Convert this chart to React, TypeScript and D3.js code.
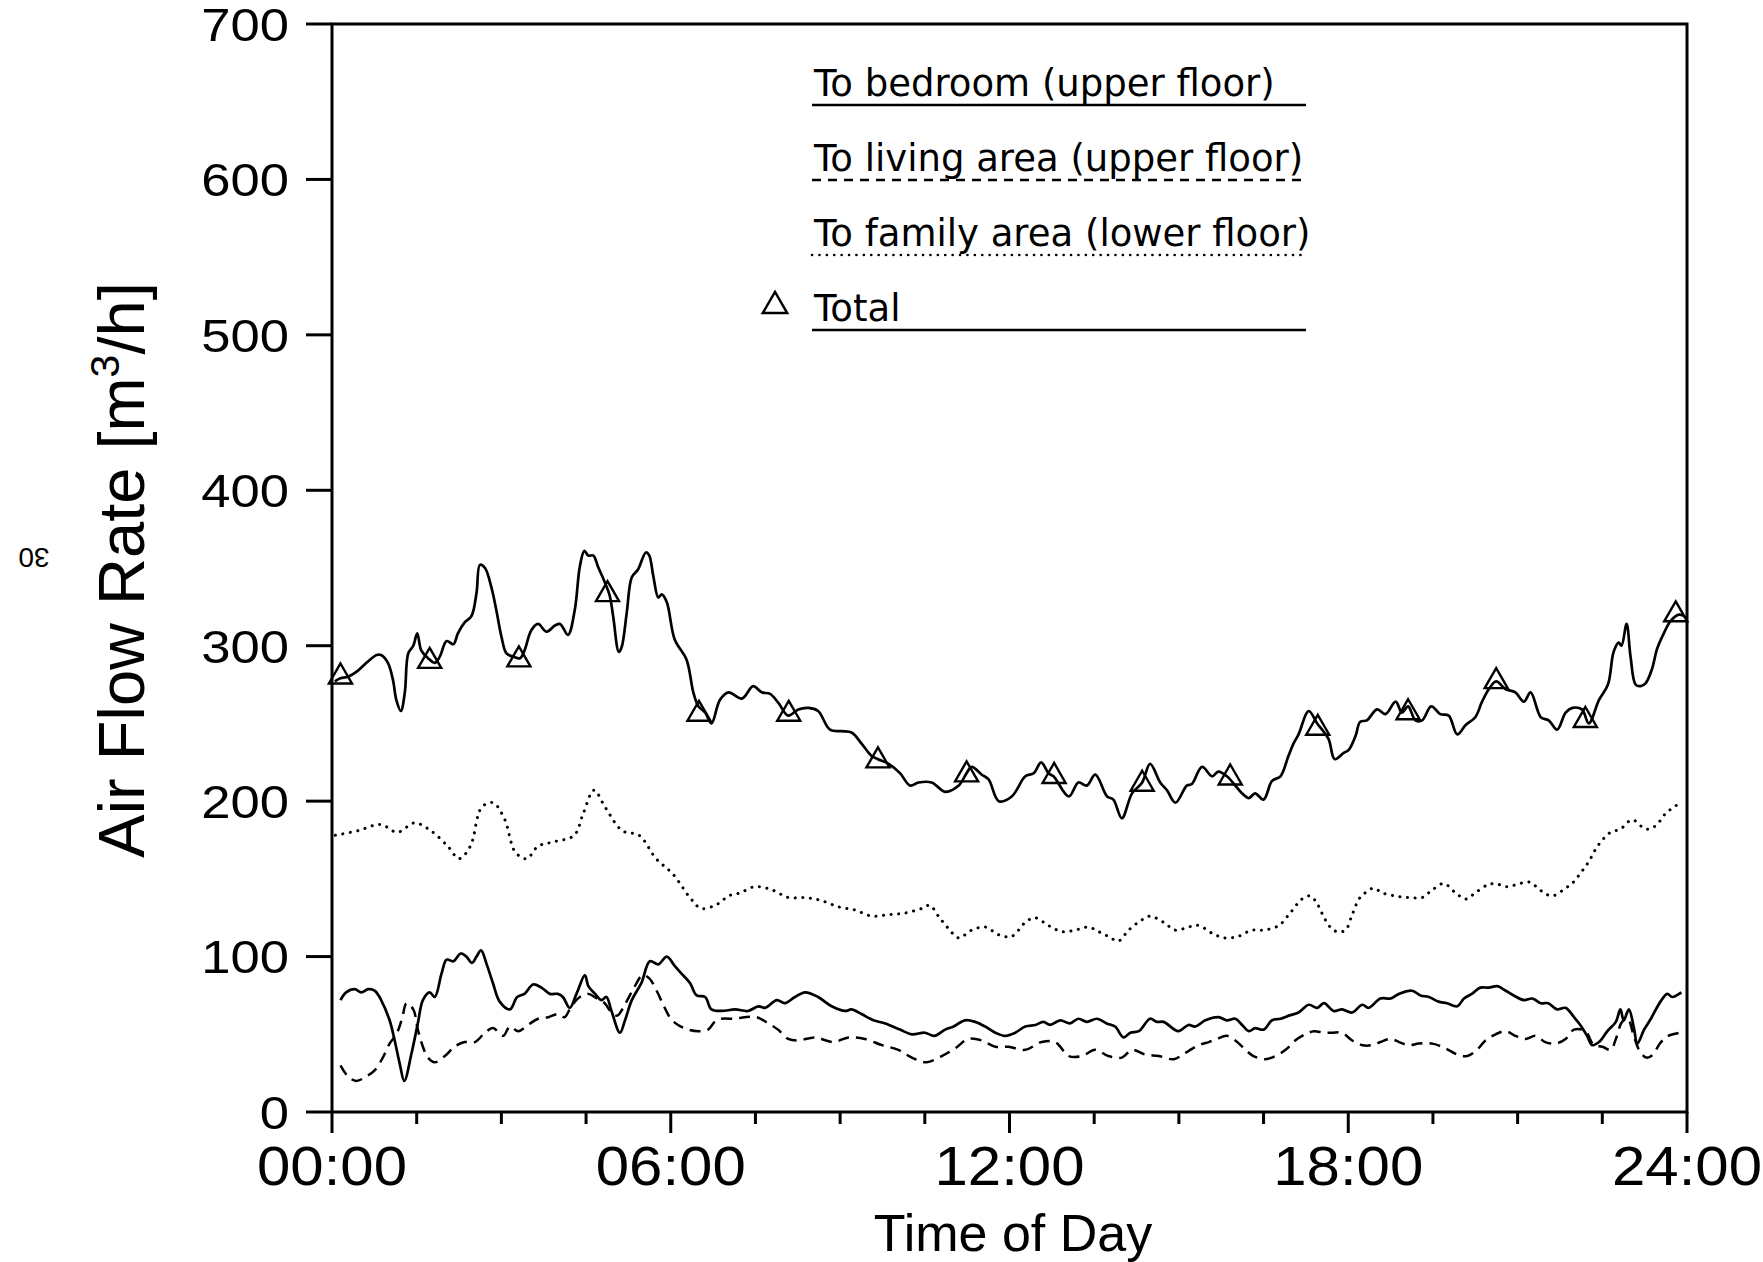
import React, { useEffect, useRef } from 'react';
import * as d3 from 'd3';

// values: [hour of day, air flow m3/h]
const totalFlow: [number, number][] = [
  [0.05, 277], [0.15, 279], [0.28, 280], [0.46, 284], [0.61, 289], [0.79, 294], [0.87, 294], [0.99, 289],
  [1.08, 278], [1.14, 265], [1.22, 258], [1.29, 270], [1.35, 295], [1.44, 300], [1.51, 308], [1.58, 297],
  [1.7, 292], [1.82, 289], [1.91, 293], [2.03, 303], [2.15, 301], [2.23, 308], [2.35, 315], [2.47, 319],
  [2.56, 334], [2.62, 352], [2.71, 350], [2.82, 338], [2.91, 323], [3.0, 306], [3.09, 295], [3.21, 293],
  [3.33, 292], [3.41, 297], [3.53, 310], [3.65, 314], [3.8, 309], [3.95, 313], [4.04, 314], [4.18, 307],
  [4.3, 323], [4.39, 351], [4.47, 361], [4.54, 358], [4.63, 358], [4.71, 351], [4.83, 341], [4.92, 332],
  [4.98, 319], [5.08, 296], [5.13, 299], [5.22, 321], [5.31, 344], [5.42, 349], [5.56, 360], [5.62, 358],
  [5.69, 345], [5.78, 331], [5.84, 333], [5.93, 328], [6.07, 304], [6.28, 291], [6.4, 270], [6.49, 261],
  [6.61, 257], [6.72, 250], [6.87, 265], [7.02, 270], [7.26, 266], [7.46, 274], [7.61, 270], [7.76, 269],
  [7.91, 263], [8.08, 255], [8.26, 259], [8.44, 260], [8.61, 258], [8.82, 246], [9.03, 245], [9.21, 244],
  [9.38, 237], [9.56, 229], [9.67, 227], [9.86, 224], [10.06, 218], [10.24, 210], [10.39, 212], [10.62, 212],
  [10.86, 206], [11.1, 210], [11.24, 218], [11.33, 222], [11.51, 217], [11.63, 214], [11.81, 200], [12.04, 203],
  [12.28, 216], [12.43, 218], [12.56, 225], [12.69, 218], [12.78, 216], [13.05, 203], [13.22, 212], [13.37, 210],
  [13.52, 217], [13.73, 203], [13.84, 201], [13.99, 189], [14.17, 205], [14.35, 212], [14.49, 224], [14.67, 212],
  [14.79, 207], [14.94, 199], [15.14, 210], [15.23, 211], [15.41, 222], [15.59, 216], [15.7, 219], [15.85, 216],
  [16.0, 210], [16.12, 205], [16.24, 202], [16.35, 205], [16.5, 201], [16.65, 213], [16.8, 216], [16.94, 229],
  [17.03, 237], [17.12, 243], [17.3, 258], [17.45, 250], [17.65, 240], [17.76, 227], [17.92, 231], [18.01, 233],
  [18.13, 242], [18.21, 251], [18.33, 252], [18.51, 259], [18.66, 256], [18.84, 264], [18.95, 257], [19.06, 261],
  [19.19, 252], [19.31, 252], [19.47, 261], [19.63, 256], [19.78, 255], [19.93, 243], [20.08, 249], [20.25, 254],
  [20.37, 264], [20.49, 272], [20.62, 277], [20.79, 272], [20.96, 270], [21.11, 264], [21.23, 270], [21.41, 254],
  [21.55, 252], [21.7, 246], [21.85, 257], [21.97, 260], [22.14, 259], [22.26, 250], [22.44, 265], [22.6, 275],
  [22.7, 296], [22.79, 302], [22.84, 300], [22.93, 314], [23.0, 293], [23.09, 275], [23.18, 274], [23.27, 276],
  [23.38, 285], [23.47, 298], [23.59, 308], [23.71, 316], [23.86, 320], [23.95, 319],
];

const bedroomFlow: [number, number][] = [
  [0.15, 72], [0.25, 77], [0.4, 79], [0.52, 77], [0.64, 79], [0.76, 78], [0.87, 72], [1.02, 59],
  [1.11, 46], [1.2, 31], [1.28, 20], [1.41, 38], [1.52, 57], [1.61, 72], [1.73, 77], [1.82, 74],
  [1.94, 89], [2.03, 98], [2.15, 97], [2.28, 102], [2.38, 100], [2.48, 96], [2.56, 100], [2.64, 104],
  [2.74, 95], [2.85, 83], [2.97, 71], [3.15, 66], [3.28, 74], [3.41, 76], [3.56, 82], [3.71, 80],
  [3.86, 76], [4.0, 76], [4.09, 74], [4.21, 67], [4.33, 76], [4.48, 88], [4.54, 81], [4.66, 76],
  [4.77, 72], [4.86, 74], [4.95, 65], [5.1, 51], [5.19, 59], [5.31, 72], [5.48, 83], [5.63, 97],
  [5.78, 95], [5.93, 100], [6.07, 94], [6.19, 89], [6.34, 83], [6.46, 75], [6.61, 74], [6.72, 66],
  [6.9, 65], [7.14, 66], [7.37, 65], [7.55, 68], [7.67, 67], [7.88, 72], [8.02, 70], [8.2, 74],
  [8.38, 77], [8.61, 74], [8.85, 68], [9.09, 65], [9.2, 66], [9.38, 63], [9.59, 59], [9.8, 57],
  [10.06, 53], [10.27, 50], [10.5, 51], [10.67, 49], [10.86, 53], [11.01, 55], [11.21, 59], [11.39, 58],
  [11.57, 55], [11.75, 51], [11.92, 49], [12.1, 51], [12.28, 55], [12.46, 56], [12.6, 58], [12.72, 56],
  [12.9, 59], [13.07, 57], [13.22, 60], [13.37, 58], [13.55, 60], [13.72, 57], [13.87, 55], [14.02, 48],
  [14.14, 51], [14.29, 52], [14.49, 60], [14.61, 58], [14.73, 58], [14.99, 52], [15.17, 56], [15.29, 55],
  [15.47, 59], [15.7, 61], [15.85, 59], [16.0, 60], [16.12, 56], [16.24, 52], [16.35, 54], [16.5, 53],
  [16.65, 59], [16.8, 60], [16.95, 62], [17.12, 64], [17.3, 69], [17.45, 67], [17.57, 70], [17.74, 65],
  [17.89, 66], [18.07, 64], [18.25, 69], [18.36, 67], [18.57, 73], [18.75, 73], [18.9, 76], [19.13, 78],
  [19.28, 75], [19.43, 74], [19.6, 71], [19.75, 70], [19.93, 68], [20.05, 73], [20.19, 76], [20.34, 80],
  [20.49, 80], [20.64, 81], [20.79, 78], [20.93, 75], [21.11, 72], [21.26, 73], [21.41, 70], [21.54, 70],
  [21.7, 66], [21.85, 67], [22.0, 61], [22.11, 56], [22.23, 49], [22.32, 43], [22.44, 45], [22.59, 52],
  [22.74, 58], [22.82, 66], [22.88, 59], [22.97, 66], [23.06, 54], [23.12, 44], [23.24, 53], [23.36, 60],
  [23.53, 71], [23.65, 76], [23.74, 74], [23.86, 76], [23.9, 77],
];

const livingFlow: [number, number][] = [
  [0.15, 30], [0.28, 23], [0.43, 20], [0.61, 23], [0.76, 27], [0.9, 35], [1.02, 44], [1.14, 50],
  [1.24, 60], [1.32, 70], [1.44, 66], [1.52, 53], [1.61, 42], [1.7, 35], [1.82, 32], [2.0, 36],
  [2.17, 42], [2.35, 45], [2.53, 45], [2.71, 51], [2.85, 54], [3.03, 49], [3.15, 55], [3.3, 52],
  [3.47, 56], [3.65, 60], [3.83, 61], [4.0, 63], [4.12, 61], [4.24, 68], [4.39, 74], [4.54, 76],
  [4.69, 73], [4.83, 70], [4.95, 64], [5.05, 62], [5.2, 70], [5.35, 80], [5.5, 88], [5.62, 86],
  [5.75, 78], [5.88, 68], [6.0, 60], [6.13, 56], [6.31, 53], [6.49, 52], [6.66, 53], [6.78, 58],
  [6.9, 60], [7.14, 60], [7.31, 61], [7.52, 61], [7.73, 57], [7.9, 53], [8.08, 47], [8.26, 46],
  [8.55, 48], [8.88, 45], [9.15, 48], [9.44, 47], [9.74, 43], [10.03, 40], [10.27, 35], [10.53, 32],
  [10.8, 36], [11.04, 41], [11.27, 47], [11.51, 46], [11.75, 42], [11.98, 42], [12.28, 40], [12.57, 45],
  [12.81, 45], [13.05, 36], [13.28, 36], [13.52, 40], [13.75, 36], [13.99, 35], [14.17, 40], [14.4, 37],
  [14.64, 36], [14.91, 34], [15.11, 38], [15.35, 43], [15.53, 45], [15.67, 47], [15.85, 49], [16.0, 46],
  [16.18, 40], [16.32, 36], [16.53, 34], [16.71, 36], [16.89, 40], [17.06, 46], [17.24, 50], [17.39, 52],
  [17.57, 51], [17.71, 51], [17.89, 51], [18.07, 46], [18.25, 43], [18.42, 43], [18.57, 45], [18.75, 47],
  [18.9, 45], [19.07, 43], [19.25, 44], [19.49, 44], [19.72, 41], [19.93, 37], [20.11, 36], [20.28, 40],
  [20.43, 46], [20.61, 50], [20.79, 52], [20.96, 49], [21.14, 47], [21.32, 49], [21.49, 45], [21.67, 44],
  [21.85, 47], [22.0, 53], [22.2, 52], [22.35, 43], [22.5, 42], [22.65, 40], [22.74, 47], [22.85, 58],
  [22.95, 60], [23.05, 50], [23.15, 40], [23.28, 35], [23.4, 37], [23.5, 43], [23.62, 48], [23.75, 50],
  [23.88, 51],
];

const familyFlow: [number, number][] = [
  [0.06, 178], [0.46, 181], [0.86, 185], [1.16, 180], [1.46, 186], [1.75, 181], [2.05, 171], [2.25, 163],
  [2.45, 171], [2.65, 196], [2.85, 199], [3.05, 189], [3.25, 167], [3.45, 163], [3.65, 171], [3.95, 174],
  [4.29, 178], [4.45, 192], [4.64, 207], [4.84, 196], [5.14, 181], [5.44, 178], [5.74, 163], [6.04, 153],
  [6.34, 138], [6.54, 131], [6.84, 134], [7.02, 139], [7.23, 141], [7.49, 145], [7.79, 143], [8.08, 138],
  [8.38, 138], [8.67, 136], [8.97, 132], [9.26, 130], [9.56, 126], [9.86, 127], [10.15, 128], [10.45, 131],
  [10.59, 133], [10.74, 126], [10.92, 118], [11.1, 112], [11.33, 117], [11.57, 119], [11.81, 114], [12.04, 113],
  [12.28, 122], [12.45, 125], [12.69, 120], [12.93, 116], [13.16, 117], [13.4, 119], [13.58, 116], [13.75, 113],
  [13.93, 110], [14.11, 117], [14.32, 123], [14.49, 126], [14.73, 122], [14.94, 117], [15.17, 119], [15.35, 120],
  [15.59, 115], [15.8, 112], [16.05, 113], [16.29, 117], [16.5, 117], [16.77, 120], [16.97, 128], [17.18, 137],
  [17.33, 139], [17.45, 134], [17.56, 126], [17.68, 119], [17.8, 116], [17.95, 117], [18.07, 127], [18.19, 137],
  [18.3, 141], [18.45, 144], [18.6, 141], [18.83, 139], [19.07, 138], [19.31, 138], [19.46, 142], [19.69, 147],
  [19.9, 141], [20.08, 137], [20.25, 141], [20.46, 146], [20.61, 147], [20.78, 145], [20.96, 146], [21.2, 148],
  [21.43, 142], [21.61, 139], [21.85, 144], [21.99, 148], [22.14, 155], [22.26, 161], [22.38, 169], [22.5, 175],
  [22.65, 180], [22.82, 182], [23.03, 188], [23.27, 182], [23.44, 184], [23.62, 192], [23.8, 197], [23.85, 198],
];

// open triangles drawn on the total curve
const totalMarkers: [number, number][] = [
  [0.15, 280], [1.73, 290], [3.31, 291], [4.88, 333], [6.5, 256], [8.09, 256], [9.67, 226], [11.24, 217],
  [12.79, 216], [14.35, 211], [15.91, 215], [17.46, 247], [19.06, 257], [20.62, 277], [22.2, 252], [23.8, 320],
];

const xTickHours = [0, 1.5, 3, 4.5, 6, 7.5, 9, 10.5, 12, 13.5, 15, 16.5, 18, 19.5, 21, 22.5, 24];
const xLabelHours = [0, 6, 12, 18, 24];
const xLabels = ['00:00', '06:00', '12:00', '18:00', '24:00'];
const yTicks = [0, 100, 200, 300, 400, 500, 600, 700];

const legendLabels = [
  'To bedroom (upper floor)',
  'To living area (upper floor)',
  'To family area (lower floor)',
  'Total',
];

const W = 1763;
const H = 1262;
const sansFont = "'Liberation Sans', Arial, Helvetica, sans-serif";
const legendFont = "'DejaVu Sans', Verdana, sans-serif";

const App: React.FC = () => {
  const svgRef = useRef<SVGSVGElement | null>(null);

  useEffect(() => {
    const svg = d3.select(svgRef.current);
    svg.selectAll('*').remove();

    const x = d3.scaleLinear().domain([0, 24]).range([332, 1687]);
    const y = d3.scaleLinear().domain([0, 700]).range([1112, 24]);

    svg.append('rect').attr('width', W).attr('height', H).attr('fill', '#fff');

    const line = d3.line<[number, number]>()
      .x((d) => x(d[0]))
      .y((d) => y(d[1]))
      .curve(d3.curveCatmullRom.alpha(0.5));

    const g = svg.append('g').attr('fill', 'none').attr('stroke', '#000');

    g.append('path').attr('d', line(familyFlow))
      .attr('stroke-width', 3).attr('stroke-dasharray', '0.1,7.5').attr('stroke-linecap', 'round');
    g.append('path').attr('d', line(livingFlow))
      .attr('stroke-width', 2.5).attr('stroke-dasharray', '11,7');
    g.append('path').attr('d', line(bedroomFlow)).attr('stroke-width', 2.7);
    g.append('path').attr('d', line(totalFlow)).attr('stroke-width', 2.7);

    const tri = d3.symbol(d3.symbolTriangle, 230)();
    g.selectAll('path.mark')
      .data(totalMarkers)
      .enter()
      .append('path')
      .attr('class', 'mark')
      .attr('d', tri)
      .attr('transform', (d) => `translate(${x(d[0])},${y(d[1])})`)
      .attr('stroke-width', 2.4);

    // frame
    const axes = svg.append('g').attr('stroke', '#000').attr('stroke-width', 3).attr('fill', 'none');
    axes.append('rect')
      .attr('x', x(0)).attr('y', y(700))
      .attr('width', x(24) - x(0)).attr('height', y(0) - y(700));

    axes.selectAll('line.yt')
      .data(yTicks)
      .enter()
      .append('line')
      .attr('x1', x(0) - 26).attr('x2', x(0))
      .attr('y1', (d) => y(d)).attr('y2', (d) => y(d));

    axes.selectAll('line.xt')
      .data(xTickHours)
      .enter()
      .append('line')
      .attr('x1', (d) => x(d)).attr('x2', (d) => x(d))
      .attr('y1', y(0))
      .attr('y2', (d) => y(0) + (d % 6 === 0 ? 21 : 12));

    const txt = svg.append('g').attr('fill', '#000').attr('font-family', sansFont);

    // the scanned lettering is a bit wider than Arial, so stretch it sideways
    txt.selectAll('text.yl')
      .data(yTicks)
      .enter()
      .append('text')
      .attr('transform', (d) => `translate(289,${y(d)}) scale(1.12,1)`)
      .attr('dy', '0.36em')
      .attr('text-anchor', 'end')
      .attr('font-size', 47)
      .text((d) => String(d));

    txt.selectAll('text.xl')
      .data(xLabelHours)
      .enter()
      .append('text')
      .attr('transform', (d) => `translate(${x(d)},1185) scale(1.09,1)`)
      .attr('text-anchor', 'middle')
      .attr('font-size', 55)
      .text((_, i) => xLabels[i]);

    txt.append('text')
      .attr('x', 1013).attr('y', 1251)
      .attr('text-anchor', 'middle')
      .attr('font-size', 52)
      .text('Time of Day');

    const yTitle = txt.append('text')
      .attr('transform', 'translate(144,570) rotate(-90)')
      .attr('text-anchor', 'middle')
      .attr('font-size', 65);
    yTitle.append('tspan').text('Air Flow Rate [m');
    yTitle.append('tspan').attr('font-size', 41).attr('dy', -25).text('3');
    yTitle.append('tspan').attr('dy', 25).text('/h]');

    // upside-down page number in the margin
    txt.append('text')
      .attr('transform', 'translate(34,558) rotate(180)')
      .attr('text-anchor', 'middle')
      .attr('dy', '0.36em')
      .attr('font-size', 28)
      .text('30');

    // legend
    const legendLineY = [105, 180, 255, 330];
    const legendDash = [null, '9,7', '0.1,7.3', null];
    const leg = svg.append('g');
    legendLabels.forEach((label, i) => {
      leg.append('text')
        .attr('x', 814).attr('y', legendLineY[i] - 9)
        .attr('font-family', legendFont)
        .attr('font-size', 37)
        .attr('fill', '#000')
        .text(label);
      const l = leg.append('line')
        .attr('x1', 812).attr('x2', 1306)
        .attr('y1', legendLineY[i]).attr('y2', legendLineY[i])
        .attr('stroke', '#000')
        .attr('stroke-width', i === 2 ? 2.6 : 2.4);
      if (legendDash[i]) l.attr('stroke-dasharray', legendDash[i] as string);
      if (i === 2) l.attr('stroke-linecap', 'round');
    });
    leg.append('path')
      .attr('d', d3.symbol(d3.symbolTriangle, 260)())
      .attr('transform', 'translate(775,306)')
      .attr('fill', 'none')
      .attr('stroke', '#000')
      .attr('stroke-width', 2.4);
  }, []);

  return (
    <svg
      ref={svgRef}
      width={W}
      height={H}
      style={{ position: 'absolute', left: 0, top: 0, display: 'block' }}
    ></svg>
  );
};

export default App;
